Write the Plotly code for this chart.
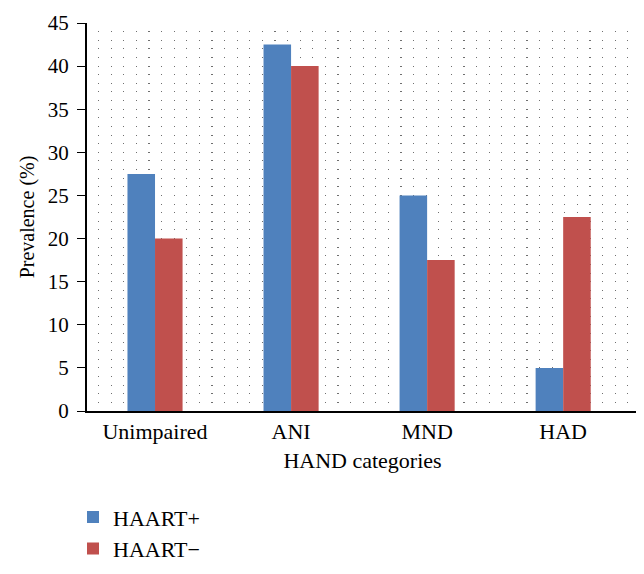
import plotly.graph_objects as go

categories = ["Unimpaired", "ANI", "MND", "HAD"]
haart_pos = [27.5, 42.5, 25, 5]
haart_neg = [20, 40, 17.5, 22.5]
y_ticks = [0, 5, 10, 15, 20, 25, 30, 35, 40, 45]

FONT = "Liberation Serif"
DOTS = "0px,11px,1.2px,0.4px"

fig = go.Figure()
fig.add_trace(go.Bar(name="HAART+", x=categories, y=haart_pos,
                     marker=dict(color="#4F81BD", line=dict(width=0))))
fig.add_trace(go.Bar(name="HAART\u2212", x=categories, y=haart_neg,
                     marker=dict(color="#C0504D", line=dict(width=0))))

fig.update_layout(
    width=644, height=574,
    margin=dict(l=79, r=14, t=15, b=166),
    paper_bgcolor="white", plot_bgcolor="white",
    barmode="group", bargap=0.595, bargroupgap=0,
    font=dict(family=FONT, size=22, color="black"),
    showlegend=True,
    legend=dict(orientation="v", x=-0.0254, y=-0.2196, xanchor="left", yanchor="top",
                font=dict(family=FONT, size=22), itemwidth=30,
                bgcolor="rgba(0,0,0,0)"),
    xaxis=dict(
        title=dict(text="HAND categories", font=dict(family=FONT, size=22), standoff=9),
        automargin=False,
        range=[-0.5, 3.55],
        showline=True, linecolor="black", linewidth=2,
        ticks="", showgrid=False, tickfont=dict(family=FONT, size=22),
    ),
    yaxis=dict(
        title=dict(text="Prevalence (%)", font=dict(family=FONT, size=20), standoff=8),
        automargin=False,
        range=[0, 45], tickvals=y_ticks,
        showline=True, linecolor="black", linewidth=2,
        ticks="outside", ticklen=8, tickwidth=1, tickcolor="black",
        ticklabelstandoff=4,
        showgrid=True, gridcolor="#6f6f6f", gridwidth=1, griddash=DOTS,
        zeroline=False,
        minor=dict(dtick=1, showgrid=True, gridcolor="#6f6f6f", gridwidth=1,
                   griddash=DOTS),
        tickfont=dict(family=FONT, size=21),
    ),
)

fig.write_html("out.html")
